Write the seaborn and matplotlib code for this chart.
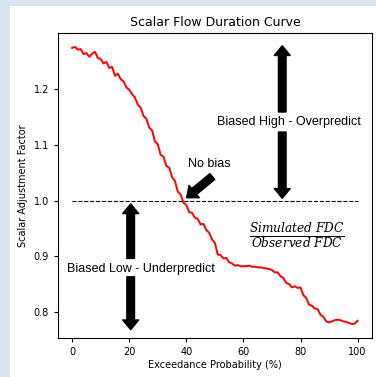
import matplotlib
matplotlib.use("Agg")
import matplotlib.pyplot as plt
import seaborn as sns
import pandas as pd
from matplotlib.patches import Rectangle

# ---- data ----
exceedance = list(range(0, 101))
scalar = [1.274, 1.276, 1.271, 1.272, 1.263, 1.265, 1.258, 1.264, 1.267, 1.256,
          1.254, 1.246, 1.249, 1.238, 1.240, 1.224, 1.228, 1.218, 1.214, 1.203,
          1.199, 1.191, 1.185, 1.172, 1.167, 1.152, 1.147, 1.131, 1.126, 1.106,
          1.101, 1.082, 1.079, 1.062, 1.059, 1.042, 1.035, 1.016, 1.011, 0.996,
          0.992, 0.979, 0.978, 0.969, 0.967, 0.957, 0.958, 0.947, 0.942, 0.930,
          0.924, 0.903, 0.902, 0.896, 0.897, 0.889, 0.887, 0.883, 0.884, 0.882,
          0.882, 0.882, 0.883, 0.881, 0.881, 0.880, 0.880, 0.879, 0.878, 0.877,
          0.875, 0.871, 0.871, 0.864, 0.861, 0.852, 0.850, 0.844, 0.846, 0.843,
          0.844, 0.830, 0.825, 0.813, 0.811, 0.806, 0.805, 0.795, 0.791, 0.783,
          0.781, 0.783, 0.785, 0.786, 0.785, 0.783, 0.782, 0.780, 0.778, 0.779,
          0.784]
xticks = [0, 20, 40, 60, 80, 100]
yticks = [0.8, 0.9, 1.0, 1.1, 1.2]
title = "Scalar Flow Duration Curve"
xlabel = "Exceedance Probability (%)"
ylabel = "Scalar Adjustment Factor"
ref_value = 1.0

df = pd.DataFrame({"x": exceedance, "y": scalar})

plt.rcParams["mathtext.fontset"] = "dejavuserif"

fig = plt.figure(figsize=(3.76, 3.77), dpi=100)
fig.patch.set_facecolor("#d8e5f0")
fig.add_artist(Rectangle((10 / 376, 0), 1, 1 - 6 / 377, transform=fig.transFigure,
                         facecolor="white", edgecolor="none", zorder=-10))
ax = fig.add_axes([0.154, 0.1035, 0.835, 0.809])
ax.set_facecolor("white")

sns.lineplot(data=df, x="x", y="y", color="red", linewidth=1.4, ax=ax)
ax.plot([exceedance[0], exceedance[-1]], [ref_value, ref_value], color="black",
        linestyle="--", linewidth=0.8)

ax.set_xticks(xticks)
ax.set_yticks(yticks)
ax.tick_params(labelsize=7, length=3, width=0.8)
ax.set_title(title, fontsize=9, pad=5)
ax.set_xlabel(xlabel, fontsize=7, labelpad=2)
ax.set_ylabel(ylabel, fontsize=7, labelpad=4)
for s in ax.spines.values():
    s.set_linewidth(0.8)

arrow = dict(facecolor="black", edgecolor="black", width=5.5, headwidth=11.5,
             headlength=7, shrink=0.0)
ax.annotate("", xy=(73.6, 1.278), xytext=(73.6, 1.159), arrowprops=arrow)
ax.annotate("", xy=(73.6, 1.004), xytext=(73.6, 1.123), arrowprops=arrow)
ax.annotate("", xy=(20.5, 0.994), xytext=(20.5, 0.896), arrowprops=arrow)
ax.annotate("", xy=(20.5, 0.768), xytext=(20.5, 0.863), arrowprops=arrow)
ax.annotate("", xy=(40.1, 1.005), xytext=(49.1, 1.043), arrowprops=arrow)

tf = dict(family="Liberation Sans", fontsize=9, ha="center", va="center")
ax.text(76.1, 1.141, "Biased High - Overpredict", **tf)
ax.text(24.0, 0.877, "Biased Low - Underpredict", **tf)
ax.text(48.1, 1.066, "No bias", **tf)
ax.text(78.9, 0.936, r"$\frac{\mathit{Simulated\ FDC}}{\mathit{Observed\ FDC}}$",
        fontsize=12.5, ha="center", va="center")

fig.savefig("out.png", dpi=100, facecolor=fig.get_facecolor())
